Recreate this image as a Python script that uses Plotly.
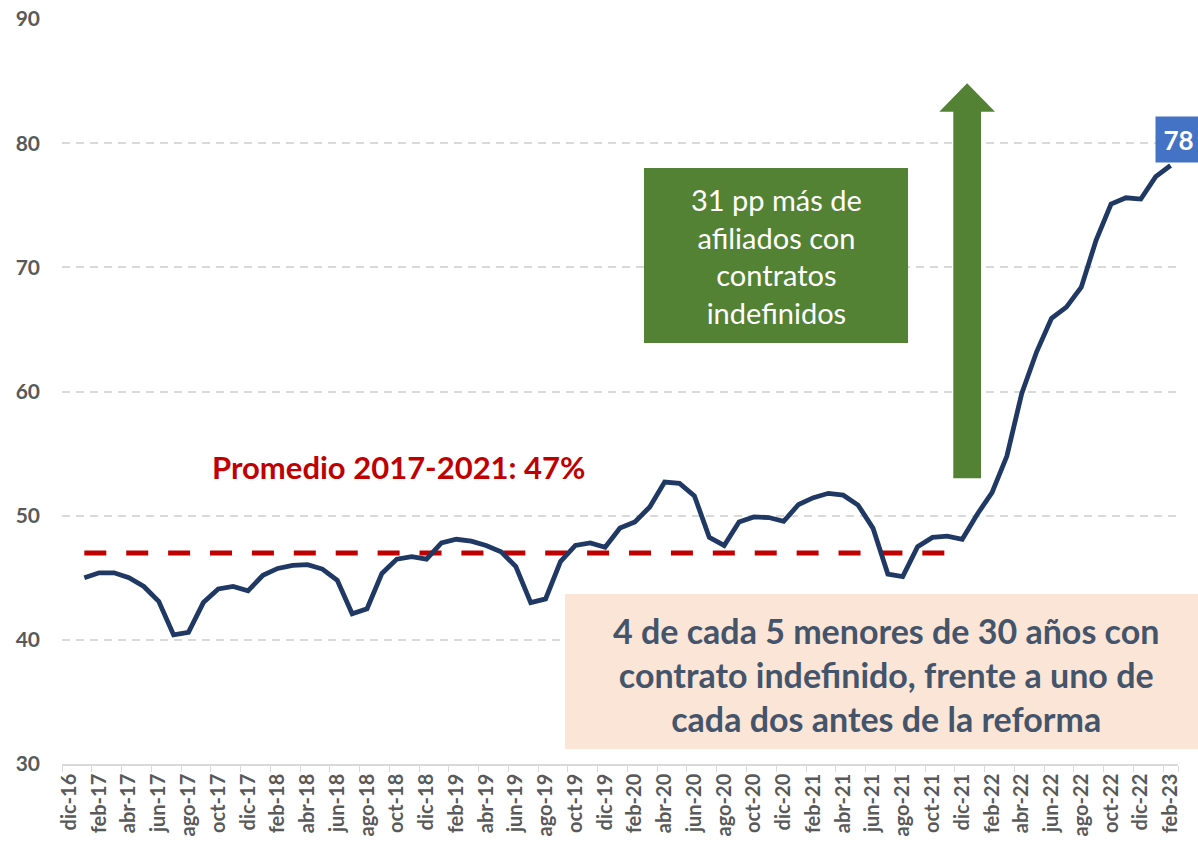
import plotly.graph_objects as go

# ---- data ----
months = [
    "dic-16",
    "ene-17", "feb-17", "mar-17", "abr-17", "may-17", "jun-17", "jul-17", "ago-17", "sep-17", "oct-17", "nov-17", "dic-17",
    "ene-18", "feb-18", "mar-18", "abr-18", "may-18", "jun-18", "jul-18", "ago-18", "sep-18", "oct-18", "nov-18", "dic-18",
    "ene-19", "feb-19", "mar-19", "abr-19", "may-19", "jun-19", "jul-19", "ago-19", "sep-19", "oct-19", "nov-19", "dic-19",
    "ene-20", "feb-20", "mar-20", "abr-20", "may-20", "jun-20", "jul-20", "ago-20", "sep-20", "oct-20", "nov-20", "dic-20",
    "ene-21", "feb-21", "mar-21", "abr-21", "may-21", "jun-21", "jul-21", "ago-21", "sep-21", "oct-21", "nov-21", "dic-21",
    "ene-22", "feb-22", "mar-22", "abr-22", "may-22", "jun-22", "jul-22", "ago-22", "sep-22", "oct-22", "nov-22", "dic-22",
    "ene-23", "feb-23",
]
series_months = months[1:]
share_indefinido = [
    45.0, 45.4, 45.4, 45.0, 44.3, 43.1, 40.4, 40.6, 43.0, 44.1, 44.3, 43.95,
    45.2, 45.75, 46.0, 46.05, 45.7, 44.8, 42.1, 42.5, 45.35, 46.5, 46.7, 46.5,
    47.8, 48.1, 47.95, 47.6, 47.1, 45.9, 43.0, 43.3, 46.3, 47.6, 47.8, 47.45,
    49.0, 49.5, 50.7, 52.7, 52.6, 51.6, 48.25, 47.6, 49.5, 49.9, 49.85, 49.55,
    50.9, 51.45, 51.8, 51.65, 50.85, 49.0, 45.3, 45.1, 47.5, 48.25, 48.35, 48.1,
    50.1, 51.85, 54.8, 59.85, 63.2, 65.9, 66.8, 68.4, 72.2, 75.1, 75.6, 75.5,
    77.3, 78.2,
]
avg_months = months[1:61]          # ene-17 .. dic-21
avg_value = [47] * len(avg_months)
tick_labels = months[::2]
y_ticks = [30, 40, 50, 60, 70, 80, 90]
last_label = "78"

FONT = "Lato"
GRAY = "#595959"

fig = go.Figure()

fig.add_trace(go.Scatter(
    x=avg_months, y=avg_value, mode="lines",
    line=dict(color="#C00000", width=5, dash="22px,19.9px"),
    hoverinfo="skip", showlegend=False,
))
fig.add_trace(go.Scatter(
    x=series_months, y=share_indefinido, mode="lines",
    line=dict(color="#1F3864", width=4.8),
    showlegend=False,
))

fig.update_layout(
    width=1198, height=843,
    margin=dict(l=62, r=20, t=19, b=79),
    paper_bgcolor="white", plot_bgcolor="white",
    font=dict(family=FONT, color=GRAY),
    xaxis=dict(
        type="category", categoryorder="array", categoryarray=months,
        range=[-0.5, len(months) - 0.5],
        tickmode="array", tickvals=tick_labels, ticktext=tick_labels,
        tickson="boundaries", ticks="outside", ticklen=6, tickcolor="#D9D9D9",
        tickangle=-90, tickfont=dict(family=FONT, size=20, color=GRAY, weight="bold"),
        showgrid=False, showline=True, linecolor="#D9D9D9", linewidth=1.5,
        zeroline=False, automargin=False,
    ),
    yaxis=dict(
        range=[30, 90], tickvals=y_ticks,
        tickfont=dict(family=FONT, size=21, color=GRAY, weight="bold"),
        showgrid=True, gridcolor="#D9D9D9", gridwidth=1.5, griddash="8px,6px",
        zeroline=False, showline=False, ticklabelstandoff=21, automargin=False,
    ),
)

def px_x(px):
    return (px - 62) / 1116

def px_y(py):
    return (764 - py) / 745

# green text box
fig.add_shape(type="rect", xref="paper", yref="paper",
              x0=px_x(644), x1=px_x(908), y0=px_y(343), y1=px_y(168),
              fillcolor="#548235", line=dict(width=0), layer="above")
fig.add_annotation(xref="paper", yref="paper", x=px_x(776), y=px_y(256),
                   xanchor="center", yanchor="middle",
                   text="31 pp más de<br>afiliados con<br>contratos<br>indefinidos",
                   showarrow=False, align="center",
                   font=dict(family=FONT, size=29, color="white"))

# green arrow
ax0, ax1 = px_x(953.3), px_x(981)
hx0, hx1, tx = px_x(939.3), px_x(995), px_x(967.15)
yb, yh, yt = px_y(478.3), px_y(111.7), px_y(83.3)
fig.add_shape(type="path", xref="paper", yref="paper",
              path=f"M {ax0} {yb} L {ax1} {yb} L {ax1} {yh} L {hx1} {yh} L {tx} {yt} L {hx0} {yh} L {ax0} {yh} Z",
              fillcolor="#548235", line=dict(width=0), layer="above")

# peach text box
fig.add_shape(type="rect", xref="paper", yref="paper",
              x0=px_x(565), x1=px_x(1198), y0=px_y(749), y1=px_y(594),
              fillcolor="#FBE5D6", line=dict(width=0), layer="above")
fig.add_annotation(xref="paper", yref="paper", x=px_x(886), y=px_y(674),
                   xanchor="center", yanchor="middle",
                   text="4 de cada 5 menores de 30 años con<br>contrato indefinido, frente a uno de<br>cada dos antes de la reforma",
                   showarrow=False, align="center",
                   font=dict(family=FONT, size=34, color="#44546A", weight="bold"))

# average label
fig.add_annotation(xref="paper", yref="paper", x=px_x(398.5), y=px_y(467),
                   xanchor="center", yanchor="middle",
                   text="Promedio 2017-2021: 47%", showarrow=False,
                   font=dict(family=FONT, size=31, color="#C00000", weight="bold"))

# last value label
fig.add_annotation(x=series_months[-1], y=share_indefinido[-1], xref="x", yref="y",
                   text=last_label, showarrow=False, xshift=7.5, yshift=26,
                   width=43, height=43, bgcolor="#4472C4", align="center",
                   font=dict(family=FONT, size=26, color="white", weight="bold"))

fig.write_html("out.html",
               config={"displayModeBar": False},
               post_script="document.body.style.margin='0px';document.body.style.overflow='hidden';")
